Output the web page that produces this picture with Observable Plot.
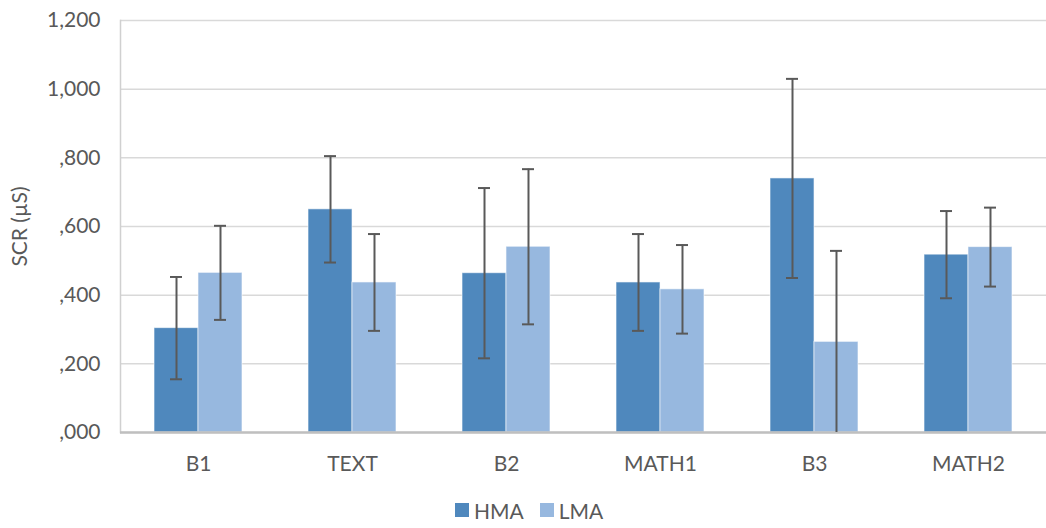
<!DOCTYPE html>
<html>
<head>
<meta charset="utf-8">
<script src="https://cdn.jsdelivr.net/npm/d3@7"></script>
<script src="https://cdn.jsdelivr.net/npm/@observablehq/plot@0.6"></script>
<style>
  html, body { margin: 0; padding: 0; background: #fff; }
  body { width: 1046px; height: 528px; overflow: hidden; font-family: Lato, "Open Sans", sans-serif; }
  #legend { display: flex; justify-content: center; align-items: center; height: 36px; color: #595959; font-size: 21px; padding-left: 12px; }
  #legend .item { display: flex; align-items: center; margin: 0 8px; }
  #legend .sw { width: 14px; height: 14px; margin-right: 5px; }
</style>
</head>
<body>
<div id="chart"></div>
<div id="legend"></div>
<script>
const categories = ["B1", "TEXT", "B2", "MATH1", "B3", "MATH2"];
const series = ["HMA", "LMA"];
const hmaValues = [0.304, 0.650, 0.464, 0.437, 0.740, 0.518];
const hmaErrors = [0.149, 0.155, 0.248, 0.141, 0.290, 0.127];
const lmaValues = [0.465, 0.437, 0.541, 0.417, 0.264, 0.540];
const lmaErrors = [0.137, 0.141, 0.226, 0.129, 0.265, 0.115];
const yTicks = [0, 0.2, 0.4, 0.6, 0.8, 1.0, 1.2];
const yTickLabels = [",000", ",200", ",400", ",600", ",800", "1,000", "1,200"];
const colors = ["#4f88bd", "#97b8df"];

const rows = [];
categories.forEach((c, i) => {
  rows.push({category: c, series: "HMA", value: hmaValues[i], err: hmaErrors[i]});
  rows.push({category: c, series: "LMA", value: lmaValues[i], err: lmaErrors[i]});
});
const hma = rows.filter(d => d.series === "HMA");
const lma = rows.filter(d => d.series === "LMA");

const width = 1046, height = 492;
const marginLeft = 120, marginRight = 0;
const paddingInner = 0.43, paddingOuter = 0.215;
const step = (width - marginLeft - marginRight) / (categories.length - paddingInner + 2 * paddingOuter);
const bw = step * (1 - paddingInner);
const half = bw / 2;
const capHalf = 6;
const textColor = "#595959";

const barStyle = {stroke: "#ffffff", strokeOpacity: 0.6, strokeWidth: 1};
const errStyle = {stroke: "#595959", strokeWidth: 2};

const plot = Plot.plot({
  width, height,
  marginLeft, marginRight, marginTop: 20, marginBottom: 60,
  style: {fontFamily: "Lato, 'Open Sans', sans-serif", fontSize: "21px", color: textColor, background: "#fff", overflow: "visible"},
  x: {domain: categories, paddingInner, paddingOuter, label: null},
  y: {domain: [0, 1.2], label: null},
  color: {domain: series, range: colors},
  marks: [
    Plot.gridY(yTicks, {stroke: "#d9d9d9", strokeOpacity: 1, strokeWidth: 1.5}),
    Plot.frame({anchor: "left", stroke: "#d0d0d0", strokeWidth: 1.5}),
    Plot.barY(hma, {x: "category", y: "value", fill: "series", insetRight: half, ...barStyle}),
    Plot.barY(lma, {x: "category", y: "value", fill: "series", insetLeft: half, ...barStyle}),
    Plot.ruleY([0], {stroke: "#bfbfbf", strokeWidth: 2.5}),
    // error bars HMA
    Plot.ruleX(hma, {x: "category", y1: d => d.value - d.err, y2: d => d.value + d.err, dx: -half / 2, ...errStyle}),
    Plot.tickY(hma, {x: "category", y: d => d.value + d.err, insetLeft: half / 2 - capHalf, insetRight: bw - half / 2 - capHalf, ...errStyle}),
    Plot.tickY(hma, {x: "category", y: d => d.value - d.err, insetLeft: half / 2 - capHalf, insetRight: bw - half / 2 - capHalf, ...errStyle}),
    // error bars LMA
    Plot.ruleX(lma, {x: "category", y1: d => Math.max(0, d.value - d.err), y2: d => d.value + d.err, dx: half / 2, ...errStyle}),
    Plot.tickY(lma, {x: "category", y: d => d.value + d.err, insetLeft: bw - half / 2 - capHalf, insetRight: half / 2 - capHalf, ...errStyle}),
    Plot.tickY(lma.filter(d => d.value - d.err > 0), {x: "category", y: d => d.value - d.err, insetLeft: bw - half / 2 - capHalf, insetRight: half / 2 - capHalf, ...errStyle}),
    Plot.axisY({ticks: yTicks, tickFormat: (d) => yTickLabels[yTicks.indexOf(d)], tickSize: 0, tickPadding: 20, fontSize: 21,
      label: "SCR (µS)", labelAnchor: "center", labelOffset: 108, labelArrow: "none", fill: textColor}),
    Plot.axisX({tickSize: 0, tickPadding: 24, fontSize: 21, label: null, fill: textColor})
  ]
});
document.getElementById("chart").appendChild(plot);

const legend = document.getElementById("legend");
series.forEach((s, i) => {
  const item = document.createElement("div");
  item.className = "item";
  const sw = document.createElement("div");
  sw.className = "sw";
  sw.style.background = colors[i];
  const t = document.createElement("span");
  t.textContent = s;
  item.appendChild(sw);
  item.appendChild(t);
  legend.appendChild(item);
});
</script>
</body>
</html>
